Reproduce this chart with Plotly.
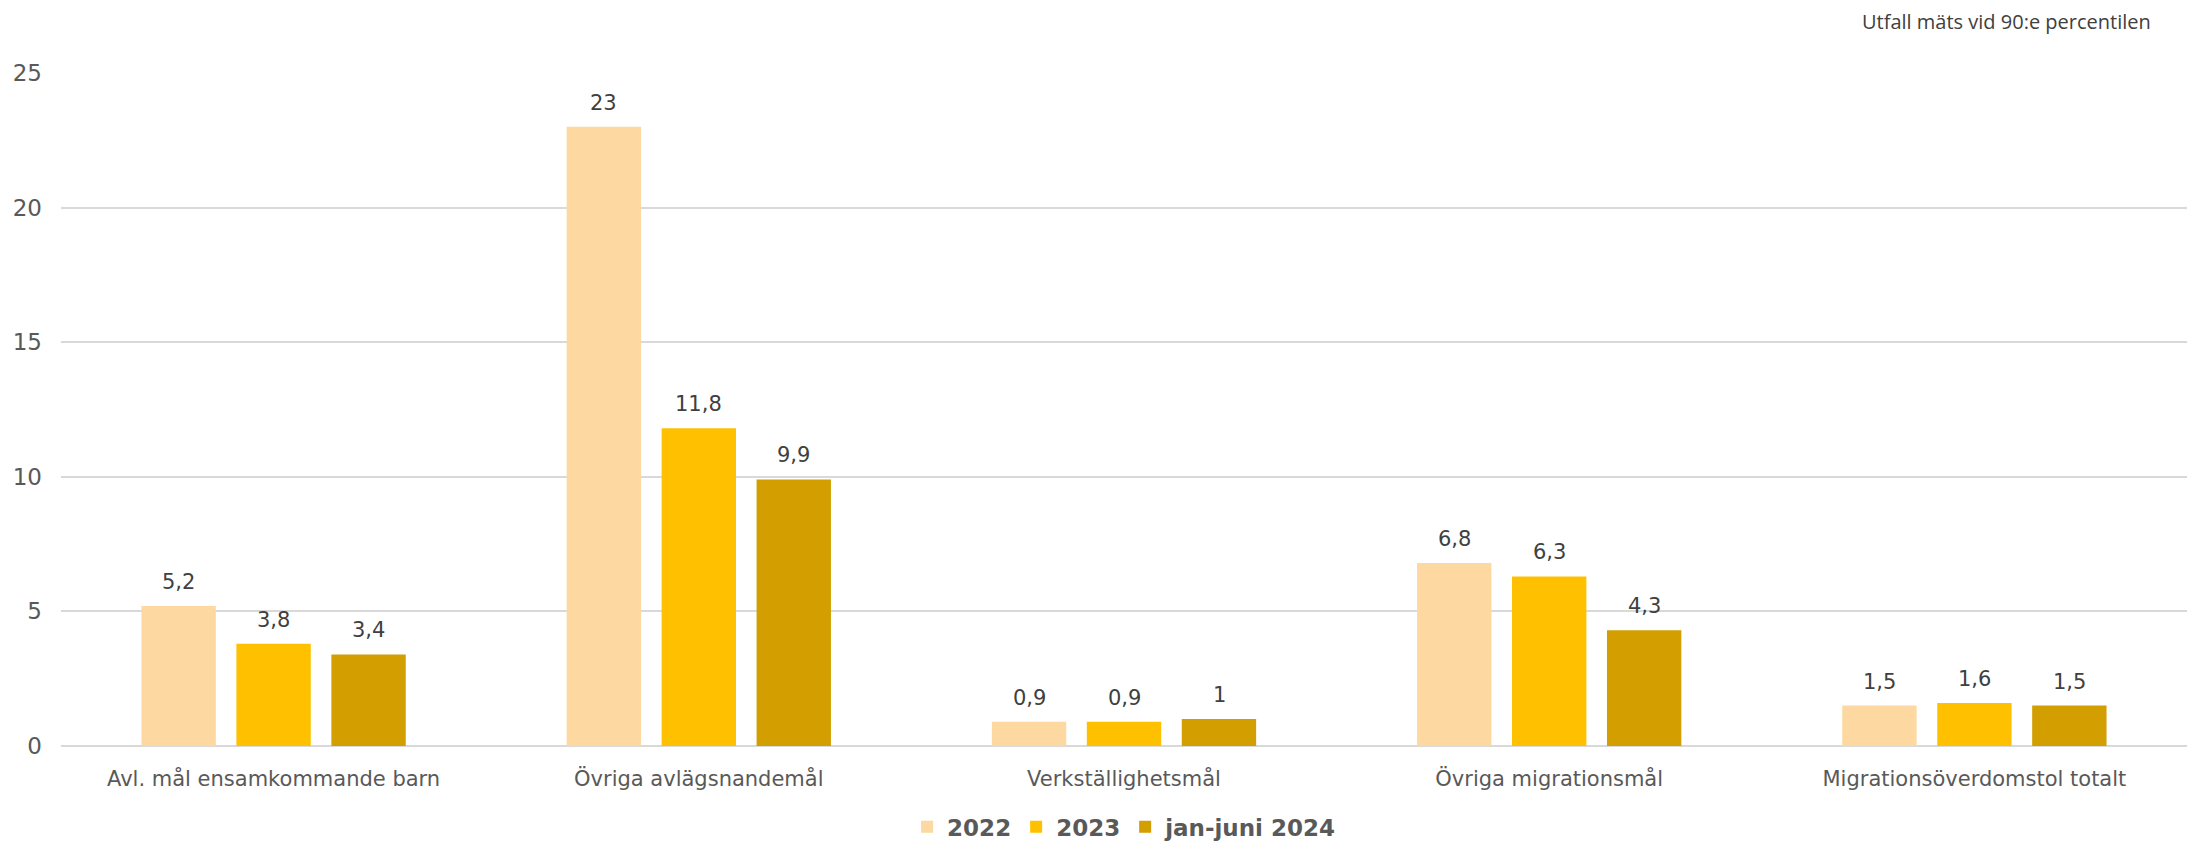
import plotly.graph_objects as go

categories = ["Avl. mål ensamkommande barn", "Övriga avlägsnandemål", "Verkställighetsmål",
              "Övriga migrationsmål", "Migrationsöverdomstol totalt"]
series_names = ["2022", "2023", "jan-juni 2024"]
values_2022 = [5.2, 23, 0.9, 6.8, 1.5]
values_2023 = [3.8, 11.8, 0.9, 6.3, 1.6]
values_2024 = [3.4, 9.9, 1.0, 4.3, 1.5]
colors = ["#FDD8A0", "#FFC000", "#D29E00"]
y_ticks = [0, 5, 10, 15, 20, 25]

def fmt(v):
    s = f"{v:.1f}".rstrip("0").rstrip(".")
    return s.replace(".", ",")

FONT = "Tahoma, Verdana, DejaVu Sans, sans-serif"
fig = go.Figure()
all_vals = [values_2022, values_2023, values_2024]
for name, vals, col in zip(series_names, all_vals, colors):
    fig.add_trace(go.Bar(name=name, x=categories, y=vals, marker=dict(color=col, line=dict(width=0))))

pitch = 95
for i, vals in enumerate(all_vals):
    for c, v in zip(categories, vals):
        fig.add_annotation(x=c, y=v, text=fmt(v), showarrow=False, xshift=(i - 1) * pitch,
                           yshift=10, yanchor="bottom",
                           font=dict(family=FONT, size=21, color="#404040"))

fig.add_annotation(x=0.984, y=1.076, xref="paper", yref="paper", xanchor="right", yanchor="middle",
                   text="Utfall mäts vid 90:e percentilen", showarrow=False,
                   font=dict(family="Open Sans", size=20, color="#404040"))

fig.update_layout(
    width=2187, height=842,
    margin=dict(l=61, r=0, t=73, b=96),
    paper_bgcolor="white", plot_bgcolor="white",
    barmode="group", bargap=0.33, bargroupgap=0.217,
    font=dict(family=FONT, size=21, color="#595959"),
    legend=dict(orientation="h", x=0.514, xanchor="center", xref="container",
                y=0.018, yanchor="middle", yref="container",
                font=dict(family=FONT, size=23, color="#595959", weight="bold"),
                itemwidth=30, traceorder="normal"),
    xaxis=dict(showgrid=False, showline=False, ticks="", ticklabelstandoff=18,
               tickfont=dict(family=FONT, size=21, color="#595959")),
    yaxis=dict(range=[0, 25], tickvals=y_ticks, showgrid=True, gridcolor="#D9D9D9", gridwidth=1.5,
               zeroline=True, zerolinecolor="#D9D9D9", zerolinewidth=2, showline=False, ticks="",
               ticklabelstandoff=18, tickfont=dict(family=FONT, size=23, color="#595959")),
)
fig.write_html("out.html", config={"displayModeBar": False},
               post_script="document.body.style.margin='0';")
